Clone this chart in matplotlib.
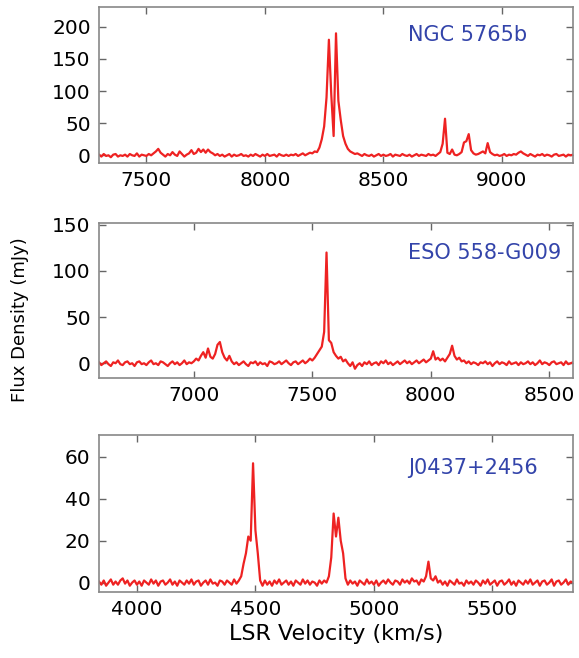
# maser spectra of three galaxies - flux density vs LSR velocity
import numpy as np
import matplotlib
matplotlib.use('Agg')
import matplotlib.pyplot as plt


# spectra, one value every 10 km/s
ngc_start = 7300
ngc_flux = [
	1, -2, 2, -1, 0, -3, 1, 2, -2, 0, -1, 1, -2, 2, 0, -1, 3, -2, 1, 0,
	-1, 2, 0, 3, 6, 10, 4, 1, -2, 2, 0, 5, 1, -1, 6, 2, -2, 1, 3, 8,
	2, 4, 10, 5, 9, 4, 9, 5, 3, 0, 2, -1, 1, -2, 0, 2, -2, 1, -1, 0,
	2, -1, 0, -2, 1, -1, 2, 0, -2, 1, -1, 2, -1, 0, 1, -2, 2, 0, -1, 1,
	-1, 1, 0, 2, -1, 1, 3, 0, 2, 4, 3, 6, 5, 12, 25, 45, 90, 180, 95, 30,
	190, 85, 55, 30, 18, 10, 6, 4, 2, 3, 1, -1, 2, 0, -1, 1, -2, 0, 2, -1,
	1, -1, 0, 2, -2, 1, 0, -1, 2, 0, -1, 1, -2, 0, 2, -1, 1, 0, -1, 2,
	0, 1, -1, 2, 5, 18, 57, 4, 2, 9, 1, 0, 2, 5, 20, 22, 33, 8, 3, 1,
	2, 4, 6, 3, 19, 5, 2, 0, 1, -1, 0, 2, -1, 1, 0, 2, 1, 4, 6, 3,
	1, -1, 2, 0, -2, 1, 0, 2, -1, 1, 0, -2, 1, 2, -1, 0, 1, -2, 1, 0, 1,
]

eso_start = 6600
eso_flux = [
	1, -2, 0, 2, -1, -3, 1, 0, 3, -1, -2, 1, 2, -1, 0, -3, 1, 2, -1, 0,
	-2, 1, 3, -1, 0, -2, 2, 1, -1, -3, 0, 2, -1, 1, -2, 0, 3, -1, 1, 0,
	2, 5, 3, 8, 12, 6, 16, 7, 5, 10, 20, 23, 12, 6, 3, 8, 2, -1, 1, -2,
	0, 2, -1, -3, 1, 0, 2, -2, 1, -1, 0, -3, 2, 1, -1, 0, 2, -1, 1, 3,
	0, -2, 1, 2, -1, 1, 3, 0, 2, 5, 3, 6, 10, 14, 18, 34, 120, 25, 22, 12,
	8, 5, 7, 2, 4, 0, -3, 1, -6, -2, 0, -3, 1, -1, 2, -2, 0, 1, -2, 2,
	0, 3, -1, 1, -2, 0, 2, -1, 1, 3, 0, 2, -1, 1, 3, 0, 2, 4, 1, 3,
	5, 13, 4, 6, 3, 5, 2, 6, 10, 19, 8, 4, 6, 2, 3, 0, 2, -1, 1, 0,
	-2, 1, 0, 2, -1, 1, -3, 0, 2, -1, 1, 0, -2, 2, -1, 0, 1, -2, 1, -1,
	0, 2, -1, 1, -2, 0, 3, -1, 1, 0, -2, 1, 2, -1, 0, 1, -2, 2, -1, 0, 1,
]

j0437_start = 3840
j0437_flux = [
	0.5, -1, 1, -1.5, 0, 1.5, -1, 0.5, -1, 1, 2, -0.5, 1, -1.5, 0, 1, -1, 0.5, -1.5, 1,
	0, -1, 1.5, -0.5, 1, -1.5, 0.5, 1, -1, 0, 1.5, -1, 0.5, -1.5, 1, 0, -1, 1, -0.5, 1.5,
	-1, 0.5, 1, -1.5, 0, 1, -1, 1.5, -0.5, 0, -1.5, 1, 0.5, -1, 1, 0, -1, 1.5, -0.5, 1,
	3, 9, 14, 22, 20, 57, 25, 14, 1, -1.5, 1, -1, 0.5, -1.5, 1, -0.5, 1.5, -1, 0, 1,
	-1, 0.5, -1.5, 1, 0, -1, 1.5, -0.5, 1, -1, 0.5, 0, -1.5, 1, -0.5, 1, 0, 3, 12, 33,
	22, 31, 20, 14, 2, -1, 1, -0.5, 0.5, -1.5, 1, 0, -1, 1.5, -0.5, 0.5, -1, 1, -1.5, 0,
	1, -0.5, 1.5, 0, -1, 1, 0.5, -1, 1.5, 0, 1, -0.5, 2, 0.5, 1, -1, 1.5, 0.5, 3, 10,
	2, 1, 3, 0, 1, -1, 0.5, -1.5, 1, 0, -1, 1.5, -0.5, 0, -1.5, 1, -0.5, 0.5, -1, 1,
	0, -1.5, 1, -0.5, 1.5, -1, 0, 1, -1.5, 0.5, 1, -1, 0, 1.5, -1, 0.5, -1.5, 1, 0, -1,
	1, -0.5, 1.5, -1, 0, 1, -1.5, 0.5, 1, -1, 0, 1.5, -1.5, 0.5, 1, -1, 0, 1.5, -1, 0.5, 0,
]

names = ['NGC 5765b', 'ESO 558-G009', 'J0437+2456']
starts = [ngc_start, eso_start, j0437_start]
spectra = [ngc_flux, eso_flux, j0437_flux]
x_limits = [(7300, 9300), (6600, 8600), (3840, 5840)]
y_limits = [(-12, 231), (-16, 152), (-4.5, 70.5)]
x_ticks = [[7500, 8000, 8500, 9000], [7000, 7500, 8000, 8500], [4000, 4500, 5000, 5500]]
y_ticks = [[0, 50, 100, 150, 200], [0, 50, 100, 150], [0, 20, 40, 60]]

# panel boxes in figure pixels (top, bottom)
W, H = 579, 658
boxes = [(7, 163), (223, 378), (435, 592)]
left_px, right_px = 99, 573

fig = plt.figure(figsize=(W / 100, H / 100), dpi=100)

for i in range(3):
	top, bottom = boxes[i]
	ax = fig.add_axes([left_px / W, 1 - bottom / H, (right_px - left_px) / W, (bottom - top) / H])

	flux = np.array(spectra[i], dtype=float)
	vel = starts[i] + 10 * np.arange(len(flux))
	ax.plot(vel, flux, color='#ee2222', lw=1.6)

	ax.set_xlim(*x_limits[i])
	ax.set_ylim(*y_limits[i])
	ax.set_xticks(x_ticks[i])
	ax.set_yticks(y_ticks[i])
	ax.tick_params(direction='in', top=True, right=True, length=5, width=1,
		color='#666666', labelsize=14.5, pad=6)
	for s in ax.spines.values():
		s.set_color('#888888')
		s.set_linewidth(1.2)

	ax.text(0.652, 0.82 - 0.015 * i, names[i], transform=ax.transAxes, color='#3344aa',
		fontsize=15, ha='left', va='center')

	if i == 2:
		ax.set_xlabel('LSR Velocity (km/s)', fontsize=16, labelpad=3)

fig.text(0.035, 1 - 320 / H, 'Flux Density (mJy)', rotation=90, fontsize=13,
	ha='center', va='center')

fig.savefig('out.png', dpi=100)
